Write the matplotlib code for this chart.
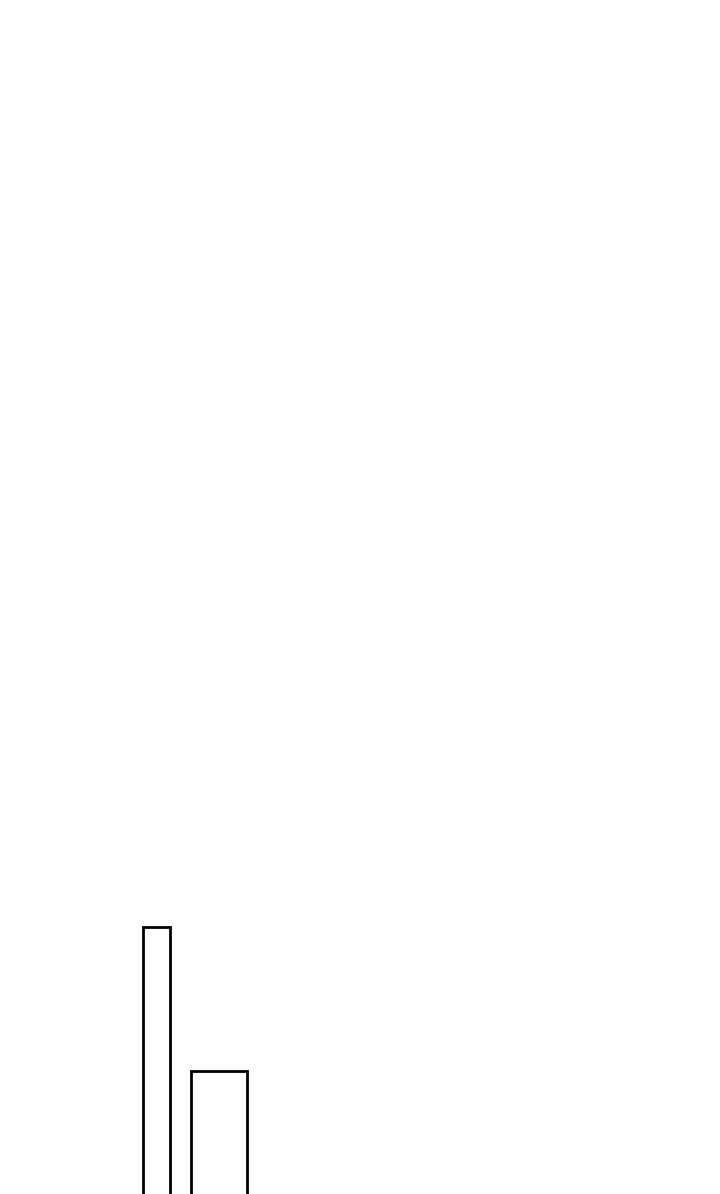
import matplotlib
matplotlib.use('Agg')
import matplotlib.pyplot as plt

# 막대 데이터
categories = ['A', 'B']
values = [94, 46]
bar_widths = [0.44, 0.90]

fig = plt.figure(figsize=(7.2, 11.94), dpi=100)
ax = fig.add_axes([0, 0, 1, 1])

positions = list(range(len(categories)))
# 막대 아래쪽은 그림 밖으로 잘림
ax.bar(positions, values, width=bar_widths, bottom=-5,
       color='white', edgecolor='black', linewidth=2.0)

ax.set_xlim(-2.5, 9.0)
ax.set_ylim(0, 398)
ax.axis('off')

fig.savefig('out.png', dpi=100, facecolor='white')
